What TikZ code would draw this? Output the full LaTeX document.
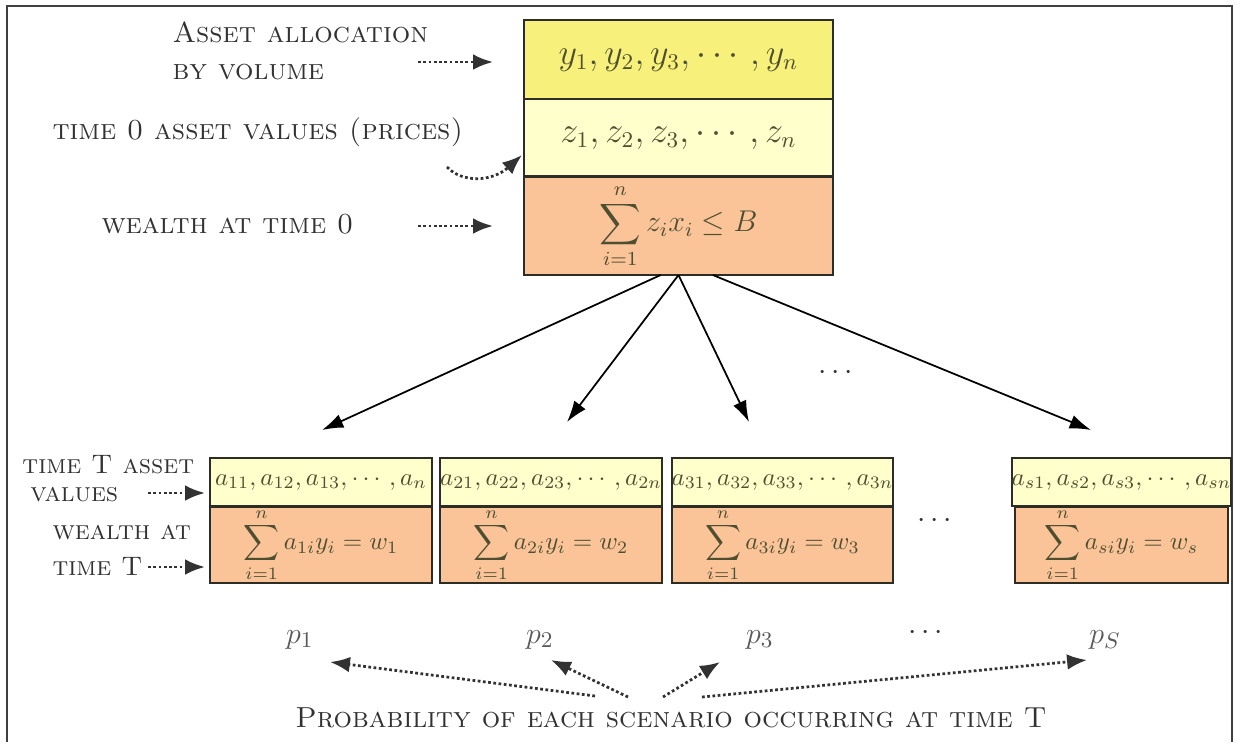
\documentclass[tikz,border=0pt]{standalone}
\usepackage{amsmath,amssymb}
\usepackage{xcolor}
\usepackage{tikz}
\usetikzlibrary{arrows.meta,calc}
\definecolor{allocyellow}{RGB}{247,240,122}
\definecolor{pricecream}{RGB}{255,255,204}
\definecolor{wealthorange}{RGB}{250,196,152}
\definecolor{mathink}{RGB}{78,78,48}
\definecolor{labelink}{RGB}{50,50,50}
\definecolor{boxedge}{RGB}{45,45,35}

\begin{document}
\begin{tikzpicture}[x=0.4pt, y=-0.4pt,
    cell/.style={draw=boxedge, line width=0.8pt, inner sep=0pt, outer sep=0pt, text=mathink},
    rowtext/.style={font=\fontsize{9.6}{11}\selectfont},
    sumtext/.style={font=\fontsize{10}{12}\selectfont},
    tag/.style={font=\fontsize{11.6}{13}\selectfont\scshape, text=labelink, inner sep=0pt},
    lowtag/.style={font=\fontsize{10.7}{12}\selectfont\scshape, text=labelink, inner sep=0pt},
    prob/.style={font=\fontsize{13}{15}\selectfont, text=black!65, anchor=base},
    pointer/.style={-{Latex[length=2.8mm,width=2.2mm]}, densely dotted, line width=1.1pt, labelink},
    branch/.style={-{Latex[length=3mm,width=2mm]}, line width=0.7pt}]
    \useasboundingbox (0,0) rectangle (1235,742);
    % Frame
    \draw[line width=0.8pt, black!75] (7,742) -- (7,6) -- (1232,6) -- (1232,742);
    % Time 0 box
    \node[cell, fill=allocyellow, minimum width=123.6pt, minimum height=31.6pt, font=\fontsize{13.5}{15}\selectfont] (alloc) at (678.5,59.5) {$y_1, y_2, y_3, \cdots, y_n$};
    \node[cell, fill=pricecream, minimum width=123.6pt, minimum height=30.8pt, font=\fontsize{13.5}{15}\selectfont] (price) at (678.5,137.5) {\raisebox{-1.5pt}{$z_1, z_2, z_3, \cdots, z_n$}\hspace{6pt}};
    \node[cell, fill=wealthorange, minimum width=123.6pt, minimum height=39.2pt, font=\fontsize{11.5}{14}\selectfont] (budget) at (678.5,226) {$\displaystyle\sum_{i=1}^{n} z_i x_i \le B$};
    % Labels at time 0
    \node[tag, anchor=base west] (lalloc) at (172,42) {Asset allocation};
    \node[tag, anchor=base west] (lvol) at (172,79) {by volume};
    \node[tag, anchor=base west] (lprice) at (52,139) {time 0 asset values (prices)};
    \node[tag, anchor=base west] (lbudget) at (101,233) {wealth at time 0};
    \coordinate (q1) at (418,62);
    \coordinate (q2) at (493,62);
    \coordinate (q3) at (447,167);
    \coordinate (q4) at (522,155);
    \coordinate (q5) at (418,226);
    \coordinate (q6) at (493,226);
    \draw[pointer] (q1) -- (q2);
    \draw[pointer] (q3) .. controls (462,183) and (492,182) .. (q4);
    \draw[pointer] (q5) -- (q6);
    % Scenario boxes
    \node[cell, fill=pricecream, minimum width=88.8pt, minimum height=19.2pt, rowtext] (v1) at (321,482) {$a_{11}, a_{12}, a_{13}, \cdots, a_n$};
    \node[cell, fill=wealthorange, minimum width=88.8pt, minimum height=30.4pt, sumtext] (w1) at (321,545) {$\displaystyle\sum_{i=1}^{n} a_{1i} y_i = w_1$};
    \node[cell, fill=pricecream, minimum width=88.8pt, minimum height=19.2pt, rowtext] (v2) at (551,482) {$a_{21}, a_{22}, a_{23}, \cdots, a_{2n}$};
    \node[cell, fill=wealthorange, minimum width=88.8pt, minimum height=30.4pt, sumtext] (w2) at (551,545) {$\displaystyle\sum_{i=1}^{n} a_{2i} y_i = w_2$};
    \node[cell, fill=pricecream, minimum width=88.4pt, minimum height=19.2pt, rowtext] (v3) at (782.5,482) {$a_{31}, a_{32}, a_{33}, \cdots, a_{3n}$};
    \node[cell, fill=wealthorange, minimum width=88.4pt, minimum height=30.4pt, sumtext] (w3) at (782.5,545) {$\displaystyle\sum_{i=1}^{n} a_{3i} y_i = w_3$};
    \node[cell, fill=pricecream, minimum width=85.2pt, minimum height=19.2pt, rowtext] (v4) at (1121.5,482) {$a_{s1}, a_{s2}, a_{s3}, \cdots, a_{sn}$};
    \node[cell, fill=wealthorange, minimum width=85.2pt, minimum height=30.4pt, sumtext] (w4) at (1121.5,545) {$\displaystyle\sum_{i=1}^{n} a_{si} y_i = w_s$};
    \node[font=\fontsize{12}{14}\selectfont, text=labelink] (gap) at (937,521) {$\cdots$};
    % Branches
    \coordinate (s1) at (322,430);
    \coordinate (s2) at (567,422);
    \coordinate (s3) at (749,422);
    \coordinate (s4) at (1091,430);
    \draw[branch] (budget.-110) -- (s1);
    \draw[branch] (budget.south) -- (s2);
    \draw[branch] (budget.south) -- (s3);
    \draw[branch] (budget.-55) -- (s4);
    \node[font=\fontsize{12}{14}\selectfont, text=labelink] (more) at (838,373) {$\cdots$};
    % Labels at time T
    \node[lowtag, anchor=base west] (lasset) at (22,473) {time T asset};
    \node[lowtag, anchor=base west] (lvalues) at (30,501) {values};
    \node[lowtag, anchor=base west] (lwealth) at (52,539) {wealth at};
    \node[lowtag, anchor=base west] (ltime) at (52,575) {time T};
    \coordinate (r1) at (148,493);
    \coordinate (r2) at (205,493);
    \coordinate (r3) at (148,567);
    \coordinate (r4) at (205,567);
    \draw[pointer] (r1) -- (r2);
    \draw[pointer] (r3) -- (r4);
    % Probabilities
    \node[prob] (p1) at (300,643) {$p_1$};
    \node[prob] (p2) at (540,643) {$p_2$};
    \node[prob] (p3) at (760,643) {$p_3$};
    \node[font=\fontsize{12}{14}\selectfont, text=labelink] (pdots) at (928,633) {$\cdots$};
    \node[prob] (ps) at (1105,643) {$p_S$};
    \node[tag, anchor=base] (scen) at (671,727) {Probability of each scenario occurring at time T};
    \coordinate (u1) at (330,662);
    \coordinate (u2) at (551,660);
    \coordinate (u3) at (720,662);
    \coordinate (u4) at (1087,660);
    \draw[pointer] (595,696) -- (u1);
    \draw[pointer] (628,697) -- (u2);
    \draw[pointer] (663,697) -- (u3);
    \draw[pointer] (702,697) -- (u4);
\end{tikzpicture}
\end{document}
